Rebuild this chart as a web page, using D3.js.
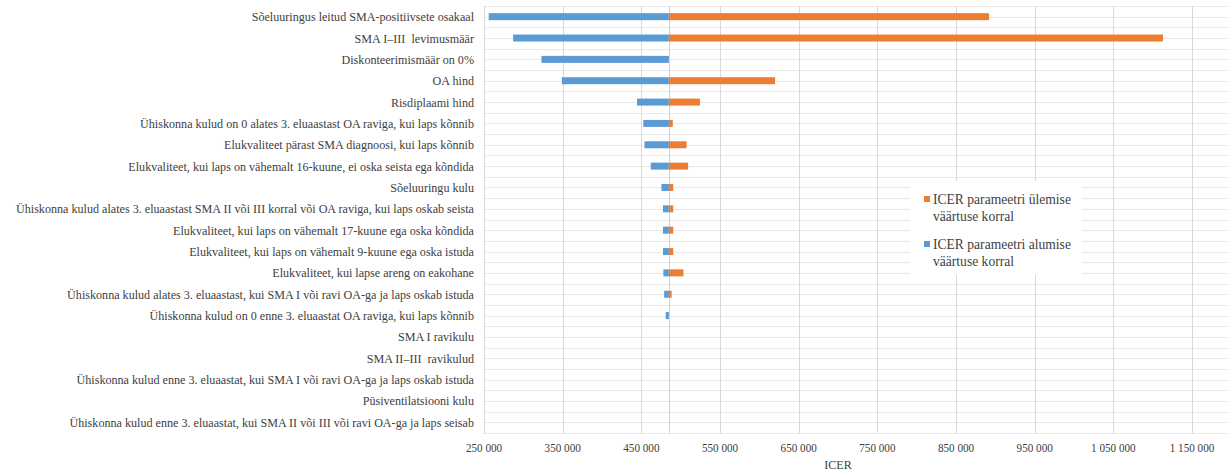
<!DOCTYPE html>
<html>
<head>
<meta charset="utf-8">
<script src="https://cdn.jsdelivr.net/npm/d3@7"></script>
<style>
  body { margin: 0; background: #fff; }
</style>
</head>
<body>
<div id="chart"></div>
<script>
const categories = [
    "Sõeluuringus leitud SMA-positiivsete osakaal",
    "SMA I\u2013III  levimusmäär",
    "Diskonteerimismäär on 0%",
    "OA hind",
    "Risdiplaami hind",
    "Ühiskonna kulud on 0 alates 3. eluaastast OA raviga, kui laps kõnnib",
    "Elukvaliteet pärast SMA diagnoosi, kui laps kõnnib",
    "Elukvaliteet, kui laps on vähemalt 16-kuune, ei oska seista ega kõndida",
    "Sõeluuringu kulu",
    "Ühiskonna kulud alates 3. eluaastast SMA II või III korral või OA raviga, kui laps oskab seista",
    "Elukvaliteet, kui laps on vähemalt 17-kuune ega oska kõndida",
    "Elukvaliteet, kui laps on vähemalt 9-kuune ega oska istuda",
    "Elukvaliteet, kui lapse areng on eakohane",
    "Ühiskonna kulud alates 3. eluaastast, kui SMA I või ravi OA-ga ja laps oskab istuda",
    "Ühiskonna kulud on 0 enne 3. eluaastat OA raviga, kui laps kõnnib",
    "SMA I ravikulu",
    "SMA II\u2013III  ravikulud",
    "Ühiskonna kulud enne 3. eluaastat, kui SMA I või ravi OA-ga ja laps oskab istuda",
    "Püsiventilatsiooni kulu",
    "Ühiskonna kulud enne 3. eluaastat, kui SMA II või III või ravi OA-ga ja laps seisab"
];

const baseIcer = 485000;

// ICER at the lower value of the parameter (blue)
const lowValues = [256000, 287000, 323000, 349000, 444500, 452500, 454000, 462000, 475500, 477500,
    477500, 477500, 478000, 479000, 481000, 485000, 485000, 485000, 485000, 485000];
// ICER at the upper value of the parameter (orange)
const highValues = [892000, 1113000, 485000, 620000, 524500, 490000, 507500, 509500, 490500, 490500,
    490500, 490500, 503500, 488500, 485000, 485000, 485000, 485000, 485000, 485000];

const xTicks = [250000, 350000, 450000, 550000, 650000, 750000, 850000, 950000, 1050000, 1150000];

const colors = { high: "#ED7D31", low: "#5B9BD5" };
const squeeze = 0.97; // text in the original is a bit narrow

const width = 1228, height = 472;
const margin = { top: 6, left: 484, bottom: 39 };

const svg = d3.select("#chart").append("svg")
    .attr("width", width)
    .attr("height", height);

const x = d3.scaleLinear()
    .domain([250000, 1250000])
    .range([margin.left, margin.left + 786.7]);

const y = d3.scaleBand()
    .domain(categories)
    .range([margin.top, height - margin.bottom]);

const fmt = v => d3.format(",")(v).replace(/,/g, " ");

// small helper, text placed with a transform so it can be squeezed
function label(sel, tx, ty, size) {
    return sel
        .attr("transform", (d, i) => `translate(${tx(d, i)},${ty(d, i)}) scale(${squeeze},1)`)
        .style("font-family", "\"Liberation Serif\"")
        .style("font-size", size + "px")
        .style("fill", "#404040");
}

// horizontal grid lines (band edges and band centres)
const hLines = [];
categories.forEach(c => { hLines.push(y(c)); hLines.push(y(c) + y.bandwidth() / 2); });
hLines.push(y.range()[1]);

svg.append("g")
    .selectAll("line")
    .data(hLines)
    .join("line")
    .attr("x1", margin.left)
    .attr("x2", width)
    .attr("y1", d => Math.round(d) + 0.5)
    .attr("y2", d => Math.round(d) + 0.5)
    .attr("stroke", "#E8E8E8")
    .attr("stroke-width", 1);

// vertical grid lines
svg.append("g")
    .selectAll("line")
    .data(xTicks)
    .join("line")
    .attr("x1", d => Math.round(x(d)) + 0.5)
    .attr("x2", d => Math.round(x(d)) + 0.5)
    .attr("y1", margin.top)
    .attr("y2", height - margin.bottom)
    .attr("stroke", "#D9D9D9");

// base axis line
svg.append("line")
    .attr("x1", Math.round(x(baseIcer)) + 0.5)
    .attr("x2", Math.round(x(baseIcer)) + 0.5)
    .attr("y1", margin.top)
    .attr("y2", height - margin.bottom)
    .attr("stroke", "#D0D0D0");

const barH = 7;

// low (blue) bars
svg.append("g")
    .selectAll("rect")
    .data(categories)
    .join("rect")
    .attr("x", (d, i) => x(Math.min(lowValues[i], baseIcer)))
    .attr("width", (d, i) => Math.abs(x(baseIcer) - x(lowValues[i])))
    .attr("y", d => y(d) + y.bandwidth() / 2 - barH / 2)
    .attr("height", barH)
    .attr("fill", colors.low);

// high (orange) bars
svg.append("g")
    .selectAll("rect")
    .data(categories)
    .join("rect")
    .attr("x", x(baseIcer))
    .attr("width", (d, i) => Math.max(0, x(highValues[i]) - x(baseIcer)))
    .attr("y", d => y(d) + y.bandwidth() / 2 - barH / 2)
    .attr("height", barH)
    .attr("fill", colors.high);

// category labels
svg.append("g")
    .selectAll("text")
    .data(categories)
    .join("text")
    .call(label, () => margin.left - 10, d => y(d) + y.bandwidth() / 2 + 4.5, 12.5)
    .attr("text-anchor", "end")
    .style("white-space", "pre")
    .text(d => d);

// x tick labels
svg.append("g")
    .selectAll("text")
    .data(xTicks)
    .join("text")
    .call(label, d => x(d), () => 452, 11.5)
    .attr("text-anchor", "middle")
    .text(d => fmt(d));

svg.append("g").selectAll("text")
    .data(["ICER"])
    .join("text")
    .call(label, () => 838, () => 469, 12.5)
    .attr("text-anchor", "middle")
    .text(d => d);

// legend
const legend = svg.append("g");
legend.append("rect")
    .attr("x", 910)
    .attr("y", 181)
    .attr("width", 172)
    .attr("height", 94)
    .attr("fill", "#fff");

const legendItems = [
    { lines: ["ICER parameetri ülemise", "väärtuse korral"], color: colors.high, y: 199 },
    { lines: ["ICER parameetri alumise", "väärtuse korral"], color: colors.low, y: 244 }
];

legendItems.forEach(item => {
    legend.append("rect")
        .attr("x", 924)
        .attr("y", item.y - 3)
        .attr("width", 6)
        .attr("height", 6)
        .attr("fill", item.color);
    legend.append("g").selectAll("text")
        .data(item.lines)
        .join("text")
        .call(label, () => 933, (d, j) => item.y + 5 + j * 17, 14)
        .text(d => d);
});
</script>
</body>
</html>
